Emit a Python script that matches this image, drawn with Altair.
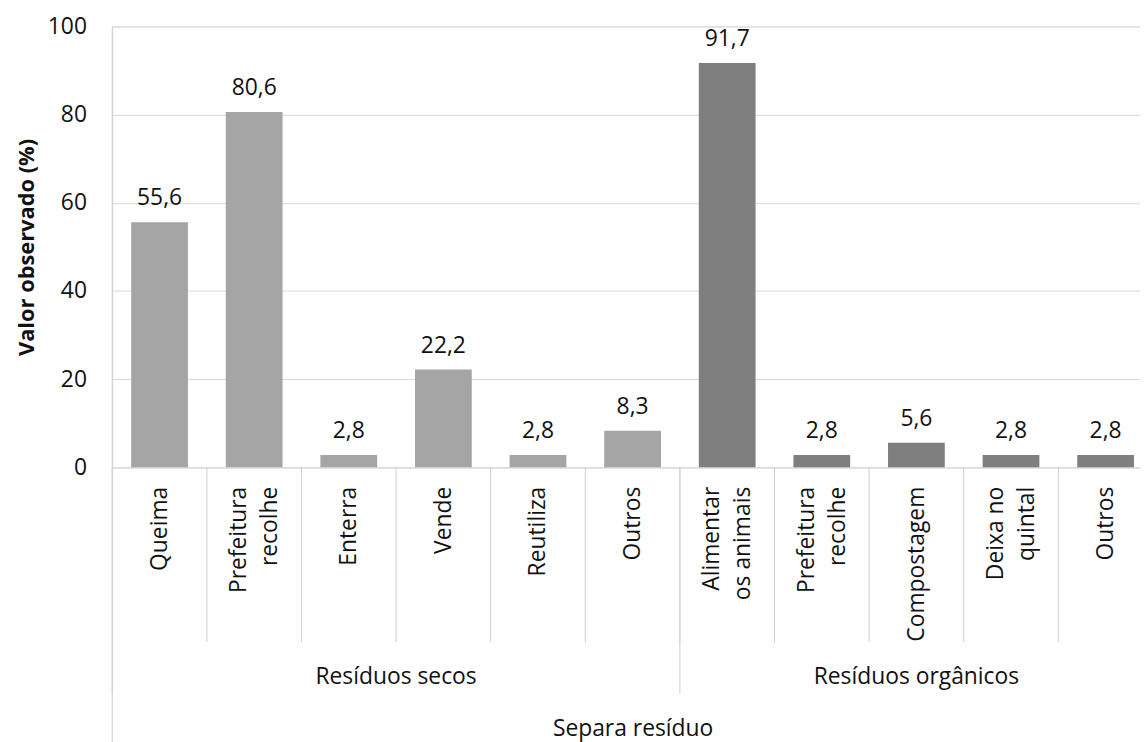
import json
import altair as alt
import pandas as pd

# ---- data ----
categorias = ["Queima", "Prefeitura recolhe", "Enterra", "Vende", "Reutiliza", "Outros",
              "Alimentar os animais", "Prefeitura recolhe", "Compostagem", "Deixa no quintal", "Outros"]
rotulos = [["Queima"], ["Prefeitura", "recolhe"], ["Enterra"], ["Vende"], ["Reutiliza"], ["Outros"],
           ["Alimentar", "os animais"], ["Prefeitura", "recolhe"], ["Compostagem"],
           ["Deixa no", "quintal"], ["Outros"]]
valores = [55.6, 80.6, 2.8, 22.2, 2.8, 8.3, 91.7, 2.8, 5.6, 2.8, 2.8]
grupos = ["Resíduos secos"] * 6 + ["Resíduos orgânicos"] * 5
grupo_nomes = ["Resíduos secos", "Resíduos orgânicos"]
grupo_cores = ["#a5a5a5", "#7f7f7f"]
y_ticks = [0, 20, 40, 60, 80, 100]
titulo_x = "Separa resíduo"
titulo_y = "Valor observado (%)"

FONT = "Open Sans"
FS = 23
LINE_H = 31
n = len(categorias)
RANGE_W = 1048
TXT = "#111111"

df = pd.DataFrame({
    "idx": list(range(n)),
    "categoria": categorias,
    "valor": valores,
    "grupo": grupos,
})
df["x0"] = df["idx"] + 0.2
df["x1"] = df["idx"] + 0.8
df["xc"] = df["idx"] + 0.5
df["rotulo"] = [f"{v:.1f}".replace(".", ",") for v in valores]

# group extents
g_rows = []
start = 0
for g in grupo_nomes:
    size = grupos.count(g)
    g_rows.append({"grupo": g, "start": start, "end": start + size, "center": start + size / 2})
    start += size
dg = pd.DataFrame(g_rows)

cat_bounds = pd.DataFrame({"pos": list(range(1, n))})
grp_bounds = pd.DataFrame({"pos": sorted(set([0] + list(dg["end"])))})
out_bounds = pd.DataFrame({"pos": [0, n]})

x_scale = alt.Scale(domain=[0, n], range=[0, RANGE_W], nice=False, zero=False)
y_scale = alt.Scale(domain=[0, 100], nice=False)

rot_js = json.dumps(rotulos, ensure_ascii=False)
label_expr = rot_js + "[floor(datum.value)]"
two_line_test = "length(" + rot_js + "[floor(datum.value)]) > 1"

bars = alt.Chart(df).mark_bar().encode(
    x=alt.X("x0:Q", scale=x_scale, axis=alt.Axis(
        values=[i + 0.5 for i in range(n)], labelExpr=label_expr,
        labelAngle=270, labelAlign="right", labelBaseline="middle",
        labelOffset={"condition": {"test": two_line_test, "value": -LINE_H / 2}, "value": 0},
        labelPadding=19, tickSize=0, ticks=False, grid=False,
        domainColor="#d9d9d9", domainWidth=1,
        labelFont=FONT, labelFontSize=FS, labelColor=TXT,
        labelLineHeight=LINE_H, labelOverlap=False, labelBound=False, labelFlush=False,
        labelLimit=400,
        title=titulo_x, titleFont=FONT, titleFontSize=FS, titleFontWeight="normal",
        titleColor=TXT, titleX=524, titleY=263, titleAlign="center",
        titleBaseline="middle", titleAngle=0)),
    x2="x1:Q",
    y=alt.Y("valor:Q", scale=y_scale, axis=alt.Axis(
        values=y_ticks, domain=False, ticks=False, tickSize=0, grid=True,
        gridColor="#d9d9d9", gridWidth=1, labelPadding=26,
        labelFont=FONT, labelFontSize=FS, labelColor=TXT,
        title=titulo_y, titleFont=FONT, titleFontSize=22, titleFontWeight="bold",
        titleColor=TXT, titleAngle=270, titleX=-86, titleY=222,
        titleAlign="center", titleBaseline="middle")),
    y2=alt.datum(0),
    color=alt.Color("grupo:N", scale=alt.Scale(domain=grupo_nomes, range=grupo_cores), legend=None),
)

labels = alt.Chart(df).mark_text(
    dy=-17, baseline="alphabetic", align="center", font=FONT, fontSize=FS, color=TXT
).encode(
    x=alt.X("xc:Q", scale=x_scale),
    y=alt.Y("valor:Q", scale=y_scale),
    text="rotulo:N",
)

RULE_COLOR = "#cfcfcf"
cat_rules = alt.Chart(cat_bounds).mark_rule(color=RULE_COLOR, strokeWidth=1).encode(
    x=alt.X("pos:Q", scale=x_scale), y=alt.value(444), y2=alt.value(620))
grp_rules = alt.Chart(grp_bounds).mark_rule(color=RULE_COLOR, strokeWidth=1).encode(
    x=alt.X("pos:Q", scale=x_scale), y=alt.value(444), y2=alt.value(672))
out_rules = alt.Chart(out_bounds).mark_rule(color=RULE_COLOR, strokeWidth=1).encode(
    x=alt.X("pos:Q", scale=x_scale), y=alt.value(0), y2=alt.value(730))

grp_text = alt.Chart(dg).mark_text(
    font=FONT, fontSize=FS, color=TXT, baseline="middle", align="center"
).encode(
    x=alt.X("center:Q", scale=x_scale), y=alt.value(655), text="grupo:N")

chart = alt.layer(cat_rules, grp_rules, out_rules, bars, labels, grp_text).properties(
    width=1035, height=444,
    autosize=alt.AutoSizeParams(type="none"),
    padding={"left": 105, "top": 16, "right": 0, "bottom": 274},
).configure_view(stroke=None).configure(background="white")

chart.save("out.html", embed_options={"renderer": "svg", "actions": False})
